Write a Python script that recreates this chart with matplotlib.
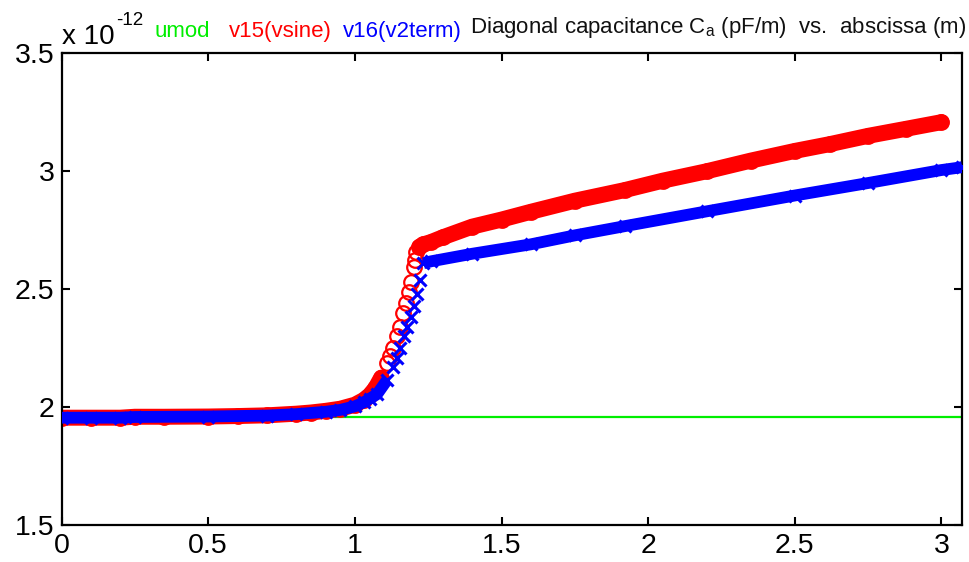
import numpy as np
import matplotlib
matplotlib.use("Agg")
import matplotlib.pyplot as plt

plt.rcParams["font.family"] = ["Liberation Sans", "DejaVu Sans"]
plt.rcParams["mathtext.fontset"] = "custom"
plt.rcParams["mathtext.rm"] = "Liberation Sans"
plt.rcParams["mathtext.it"] = "Liberation Sans:italic"

# capacitance values in units of 1e-12 F/m
x_red = [0.00, 0.10, 0.20, 0.25, 0.35, 0.50, 0.60, 0.70, 0.80, 0.85, 0.90, 0.95,
         1.00, 1.03, 1.05, 1.07, 1.09, 1.11, 1.12, 1.13, 1.145, 1.155, 1.165, 1.175,
         1.185, 1.19, 1.20, 1.205, 1.21, 1.22, 1.234, 1.26, 1.30, 1.40, 1.50, 1.60,
         1.75, 1.92, 2.05, 2.20, 2.35, 2.50, 2.62, 2.75, 2.88, 3.00]
v15 = [1.955, 1.955, 1.955, 1.959, 1.959, 1.960, 1.962, 1.965, 1.972, 1.977, 1.984, 1.993,
       2.010, 2.030, 2.050, 2.080, 2.125, 2.185, 2.215, 2.250, 2.300, 2.340, 2.400, 2.440,
       2.490, 2.530, 2.594, 2.625, 2.657, 2.680, 2.690, 2.700, 2.720, 2.765, 2.795, 2.828,
       2.875, 2.920, 2.960, 3.000, 3.045, 3.086, 3.115, 3.150, 3.180, 3.208]

x_blue = [0.00, 0.10, 0.20, 0.25, 0.50, 0.70, 0.80, 0.90, 0.95, 1.00, 1.03, 1.05, 1.076,
          1.11, 1.13, 1.144, 1.155, 1.166, 1.178, 1.19, 1.20, 1.212, 1.222, 1.234, 1.26,
          1.40, 1.60, 1.75, 1.92, 2.20, 2.50, 2.75, 3.00, 3.07]
v16 = [1.955, 1.955, 1.955, 1.958, 1.960, 1.964, 1.970, 1.980, 1.988, 2.003, 2.020, 2.035, 2.055,
       2.115, 2.170, 2.210, 2.250, 2.300, 2.340, 2.380, 2.430, 2.480, 2.540, 2.610, 2.618,
       2.650, 2.690, 2.728, 2.767, 2.830, 2.897, 2.950, 3.005, 3.017]

x_green = [0.0, 3.07]
umod = [1.956, 1.956]

x_red, v15 = np.array(x_red), np.array(v15)
x_blue, v16 = np.array(x_blue), np.array(v16)

fig = plt.figure(figsize=(9.69, 5.62), dpi=100)
ax = fig.add_axes([0.0635, 0.0658, 0.9293, 0.8394])

ax.plot(x_green, umod, color="#00ee00", lw=1.6, zorder=1)

# dense markers in the original merge into a solid band outside the steep part
red_band = np.where((x_red > 1.09) & (x_red < 1.215), np.nan, v15)
blue_band = np.where((x_blue > 1.11) & (x_blue < 1.234), np.nan, v16)
ax.plot(x_red, red_band, color="red", lw=11.5, solid_capstyle="round", zorder=2)
ax.plot(x_red, v15, "o", color="red", mfc="none", ms=10.5, mew=1.6, zorder=2)
ax.plot(x_blue, blue_band, color="blue", lw=8.5, solid_capstyle="butt", zorder=3)
ax.plot(x_blue, v16, "x", color="blue", ms=8, mew=2.2, zorder=3)

ax.set_xlim(0, 3.07)
ax.set_ylim(1.5, 3.5)
ax.set_xticks([0, 0.5, 1, 1.5, 2, 2.5, 3])
ax.set_xticklabels(["0", "0.5", "1", "1.5", "2", "2.5", "3"])
ax.set_yticks([1.5, 2, 2.5, 3, 3.5])
ax.set_yticklabels(["1.5", "2", "2.5", "3", "3.5"])
ax.tick_params(direction="in", length=6, width=1.5, labelsize=20.5,
               top=True, right=True, pad=6)
ax.tick_params(axis="y", pad=5)
for s in ax.spines.values():
    s.set_linewidth(1.6)

W, H = 969, 562
fig.text(62 / W, 1 - 44 / H, "x 10", fontsize=20, va="baseline")
fig.text(116 / W, 1 - 25 / H, "-12", fontsize=13.5, va="baseline")
fig.text(155 / W, 1 - 37 / H, "umod", fontsize=16, color="#00ee00", va="baseline")
fig.text(229 / W, 1 - 37 / H, "v15(vsine)", fontsize=16, color="red", va="baseline")
fig.text(343 / W, 1 - 37 / H, "v16(v2term)", fontsize=16, color="blue", va="baseline")
fig.text(470 / W, 1 - 33 / H, r"Diagonal capacitance C$_\mathrm{a}$ (pF/m)  vs.  abscissa (m)",
         fontsize=16, color="#111111", va="baseline")

fig.savefig("out.png", dpi=100)
